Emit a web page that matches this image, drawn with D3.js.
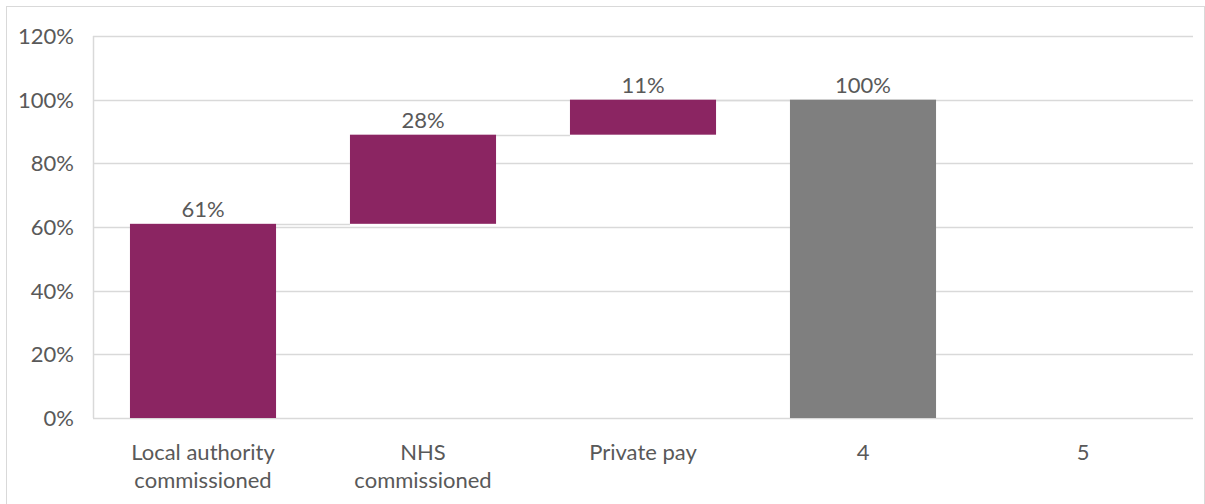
<!DOCTYPE html>
<html>
<head>
<meta charset="utf-8">
<script src="https://cdn.jsdelivr.net/npm/d3@7"></script>
<style>
  body { margin: 0; background: #fff; }
  text { font-family: Lato, "Liberation Sans", sans-serif; fill: #595959; }
</style>
</head>
<body>
<div id="chart"></div>
<script>

// chart data
const categories = [["Local authority", "commissioned"], ["NHS", "commissioned"], ["Private pay"], ["4"], ["5"]];
const values = [61, 28, 11, 100, null];
const isTotal = [false, false, false, true, false];
const yTicks = [0, 20, 40, 60, 80, 100, 120];

const W = 1205, H = 504;
const margin = {top: 36, right: 12, bottom: 86, left: 93};
const width = W - margin.left - margin.right;
const height = H - margin.top - margin.bottom;

const svg = d3.select("#chart").append("svg")
	.attr("width", W)
	.attr("height", H);

// outer chart border
svg.append("rect")
	.attr("x", 6.5).attr("y", 6.5)
	.attr("width", W - 7).attr("height", H + 10)
	.attr("fill", "none")
	.attr("stroke", "#d9d9d9");

const g = svg.append("g")
	.attr("transform", "translate(" + margin.left + "," + margin.top + ")");

// build waterfall steps from the values
let running = 0;
const steps = values.map((v, i) => {
	if (v === null) return null;
	let s;
	if (isTotal[i]) { s = {i: i, y0: 0, y1: v, v: v}; running = v; }
	else { s = {i: i, y0: running, y1: running + v, v: v}; running += v; }
	return s;
});

const x = d3.scaleBand()
	.domain(d3.range(categories.length))
	.range([0, width])
	.paddingInner(0.336)
	.paddingOuter(0.168);

const y = d3.scaleLinear()
	.domain([0, 120])
	.range([height, 0]);

// gridlines
g.selectAll(".grid")
	.data(yTicks)
	.enter().append("line")
	.attr("x1", 0).attr("x2", width)
	.attr("y1", d => Math.round(y(d)) + 0.5)
	.attr("y2", d => Math.round(y(d)) + 0.5)
	.attr("stroke", "#d9d9d9")
	.attr("stroke-width", 1.5);

// left axis line
g.append("line")
	.attr("x1", 0.5).attr("x2", 0.5)
	.attr("y1", y(120)).attr("y2", y(0))
	.attr("stroke", "#d9d9d9")
	.attr("stroke-width", 1.5);

// y tick labels
g.selectAll(".ytick")
	.data(yTicks)
	.enter().append("text")
	.attr("x", -19)
	.attr("y", d => y(d))
	.attr("dy", "0.36em")
	.attr("text-anchor", "end")
	.attr("font-size", 22)
	.text(d => d + "%");

const drawn = steps.filter(d => d);

// connectors between consecutive bars
for (let k = 0; k < drawn.length - 1; k++) {
	const a = drawn[k], b = drawn[k + 1];
	const top = a.y1;
	g.append("line")
		.attr("x1", x(a.i) + x.bandwidth())
		.attr("x2", x(b.i))
		.attr("y1", Math.round(y(top)) + 0.5)
		.attr("y2", Math.round(y(top)) + 0.5)
		.attr("stroke", "#d9d9d9")
		.attr("stroke-width", 1.5);
}

// bars
g.selectAll(".bar")
	.data(drawn)
	.enter().append("rect")
	.attr("x", d => x(d.i))
	.attr("width", x.bandwidth())
	.attr("y", d => y(d.y1))
	.attr("height", d => y(d.y0) - y(d.y1))
	.attr("fill", d => isTotal[d.i] ? "#7f7f7f" : "#8b2562");

// value labels
g.selectAll(".val")
	.data(drawn)
	.enter().append("text")
	.attr("x", d => x(d.i) + x.bandwidth() / 2)
	.attr("y", d => y(d.y1) - 7)
	.attr("text-anchor", "middle")
	.attr("font-size", 22)
	.text(d => d.v + "%");

// category labels
const cat = g.selectAll(".cat")
	.data(categories)
	.enter().append("text")
	.attr("text-anchor", "middle")
	.attr("font-size", 22)
	.attr("transform", (d, i) => "translate(" + (x(i) + x.bandwidth() / 2) + "," + (height + 42) + ")");

cat.selectAll("tspan")
	.data(d => d)
	.enter().append("tspan")
	.attr("x", 0)
	.attr("dy", (d, j) => j === 0 ? 0 : 28)
	.text(d => d);

</script>
</body>
</html>
